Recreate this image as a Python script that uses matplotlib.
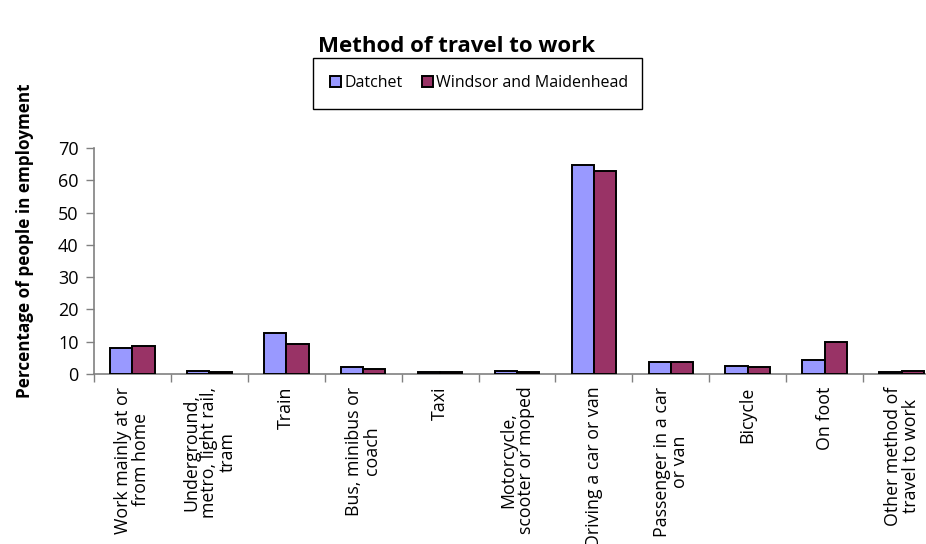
import matplotlib
matplotlib.use("Agg")
import matplotlib.pyplot as plt
from matplotlib.patches import Rectangle, Patch
import numpy as np

plt.rcParams['font.family'] = ['Open Sans', 'DejaVu Sans']

categories = [
    "Work mainly at or\nfrom home",
    "Underground,\nmetro, light rail,\ntram",
    "Train",
    "Bus, minibus or\ncoach",
    "Taxi",
    "Motorcycle,\nscooter or moped",
    "Driving a car or van",
    "Passenger in a car\nor van",
    "Bicycle",
    "On foot",
    "Other method of\ntravel to work",
]
datchet = [7.9, 1.0, 12.7, 2.1, 0.5, 1.0, 64.7, 3.7, 2.6, 4.2, 0.6]
windsor = [8.8, 0.5, 9.2, 1.5, 0.5, 0.7, 62.8, 3.7, 2.3, 9.8, 0.9]
series_names = ["Datchet", "Windsor and Maidenhead"]
colors = ["#9999FF", "#993366"]
yticks = [0, 10, 20, 30, 40, 50, 60, 70]

W, H = 926, 544
fig = plt.figure(figsize=(W / 100, H / 100), dpi=100)

# plot area runs slightly past the right edge of the canvas
left, right, top, bottom = 94, 940, 148, 374
ax = fig.add_axes([left / W, 1 - bottom / H, (right - left) / W, (bottom - top) / H])

x = np.arange(len(categories))
bw = 0.29
ax.bar(x - bw / 2, datchet, bw, color=colors[0], edgecolor="black", linewidth=1.4, zorder=3)
ax.bar(x + bw / 2, windsor, bw, color=colors[1], edgecolor="black", linewidth=1.4, zorder=3)

ax.set_xlim(-0.5, len(categories) - 0.5)
ax.set_ylim(0, 70)
ax.set_yticks(yticks)
ax.set_xticks(x)
ax.set_xticklabels(categories, rotation=90, ha="center", va="top",
                   multialignment="center", fontsize=12.8, linespacing=1.0)
ax.set_xticks(np.arange(len(categories) + 1) - 0.5, minor=True)
ax.tick_params(axis="x", which="major", length=0, pad=9)
ax.tick_params(axis="x", which="minor", length=6, width=1, color="#808080", direction="out")
ax.tick_params(axis="y", length=6, width=1, color="#808080", labelsize=13, pad=5)

for s in ("top", "right"):
    ax.spines[s].set_visible(False)
for s in ("left", "bottom"):
    ax.spines[s].set_color("#808080")
    ax.spines[s].set_linewidth(1.2)

fig.text(457 / W, 1 - 46 / H, "Method of travel to work", ha="center", va="center",
         fontsize=16, fontweight="bold")
fig.text(25 / W, 1 - 241 / H, "Percentage of people in employment", rotation=90,
         ha="center", va="center", fontsize=12.3, fontweight="bold")

# legend with its own frame
fig.patches.append(Rectangle((313 / W, 1 - 109 / H), (642 - 313) / W, (109 - 58) / H,
                             transform=fig.transFigure, fill=False,
                             edgecolor="black", linewidth=1))
handles = [Patch(facecolor=c, edgecolor="black", linewidth=1.4) for c in colors]
fig.legend(handles, series_names, loc="center", bbox_to_anchor=(479 / W, 1 - 83 / H),
           ncol=2, frameon=False, fontsize=11.5, handlelength=0.7, handleheight=0.7,
           handletextpad=0.2, columnspacing=1.2)

fig.savefig("out.png", dpi=100)
